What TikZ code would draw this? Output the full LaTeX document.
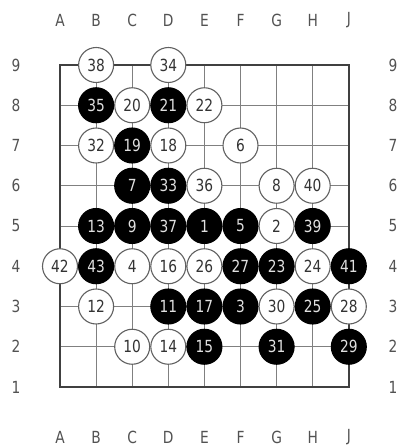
\documentclass[tikz,border=0pt]{standalone}
\usepackage{graphicx}
\usepackage{fontspec}
\setmainfont{DejaVu Sans}
\newcommand\fs{\fontsize{14.5}{16}\selectfont}
\newcommand\sy[1]{\scalebox{0.95}[1.15]{#1}}
\tikzset{
  stone/.style={circle, minimum size=35pt, inner sep=0pt, line width=1.1pt, font=\fs},
  wst/.style={stone, draw=black!62, fill=white, text=black!80},
  bst/.style={stone, draw=black, fill=black, text=white!88!black},
  lab/.style={text=black!68, font=\fs, inner sep=0pt},
  gridline/.style={draw=black!50, line width=0.9pt},
  border/.style={draw=black!75, line width=2.2pt}
}
\begin{document}
\begin{tikzpicture}[x=1pt,y=-1pt]
\useasboundingbox (0,0) rectangle (397,447);
\fill[white] (0,0) rectangle (397,447);
% grid
\foreach \i in {1,...,7} {
  \draw[gridline] ({60+36.1*\i},65) -- ({60+36.1*\i},387);
  \draw[gridline] (60,{65+40.25*\i}) -- (348.8,{65+40.25*\i});
}
\draw[border] (60,65) rectangle (348.8,387);
% coordinate labels
\foreach \l [count=\k from 0] in {A,B,C,D,E,F,G,H,J} {
  \node[lab] (top\l) at ({60+36.1*\k},20) {\sy{\l}};
  \node[lab] (bot\l) at ({60+36.1*\k},437) {\sy{\l}};
}
\foreach \r in {1,...,9} {
  \node[lab] (left\r) at (16,{65+40.25*(9-\r)}) {\sy{\r}};
  \node[lab] (right\r) at (393,{65+40.25*(9-\r)}) {\sy{\r}};
}
% stones
\foreach \c/\r/\n/\t in {
  1/9/38/wst, 3/9/34/wst,
  1/8/35/bst, 2/8/20/wst, 3/8/21/bst, 4/8/22/wst,
  1/7/32/wst, 2/7/19/bst, 3/7/18/wst, 5/7/6/wst,
  2/6/7/bst, 3/6/33/bst, 4/6/36/wst, 6/6/8/wst, 7/6/40/wst,
  1/5/13/bst, 2/5/9/bst, 3/5/37/bst, 4/5/1/bst, 5/5/5/bst, 6/5/2/wst, 7/5/39/bst,
  0/4/42/wst, 1/4/43/bst, 2/4/4/wst, 3/4/16/wst, 4/4/26/wst, 5/4/27/bst, 6/4/23/bst, 7/4/24/wst, 8/4/41/bst,
  1/3/12/wst, 3/3/11/bst, 4/3/17/bst, 5/3/3/bst, 6/3/30/wst, 7/3/25/bst, 8/3/28/wst,
  2/2/10/wst, 3/2/14/wst, 4/2/15/bst, 6/2/31/bst, 8/2/29/bst} {
  \node[\t] (s\n) at ({60+36.1*\c},{65+40.25*(9-\r)}) {\sy{\n}};
}
\end{tikzpicture}
\end{document}
